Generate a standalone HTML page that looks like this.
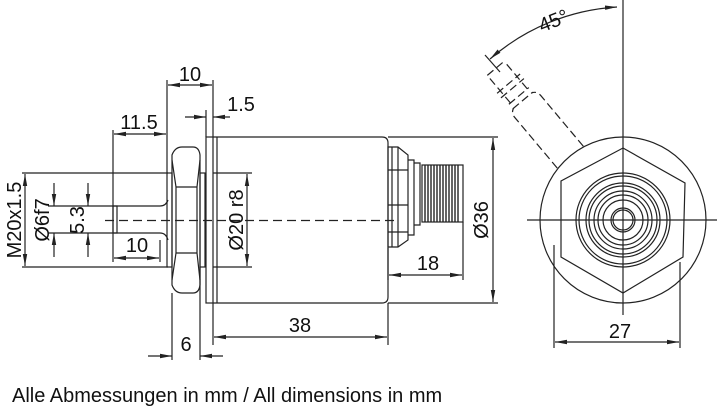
<!DOCTYPE html>
<html><head><meta charset="utf-8"><style>
html,body{margin:0;padding:0;background:#fff}
svg{display:block}
text{font-family:"Liberation Sans",sans-serif;font-size:20px;fill:#111}
</style></head><body>
<svg width="723" height="411" viewBox="0 0 723 411" xmlns="http://www.w3.org/2000/svg">
<defs>
<marker id="a" viewBox="0 0 12 6" refX="12" refY="3" markerWidth="12" markerHeight="6" orient="auto-start-reverse" markerUnits="userSpaceOnUse">
<path d="M0,0.8 L12,3 L0,5.2 Z" fill="#222"/></marker>
</defs>
<g stroke="#222" stroke-width="1.2" fill="none">
<line x1="105" y1="220.5" x2="395" y2="220.5" stroke-dasharray="9,5"/>
<path d="M113,206 H160 Q166,206 168,200 M113,233 H160 Q166,233 168,240"/>
<rect x="113" y="206" width="4" height="27"/>
<rect x="167" y="173" width="5" height="94"/>
<path d="M172,155 Q175,147 182,147 H193 Q199,147 200,155 V285 Q199,293 193,293 H182 Q175,293 172,285 Z"/>
<path d="M172,160 L176,187 H197 L200,160 M176,187 V253 M197,187 V253 M172,280 L176,253 H197 L200,280"/>
<rect x="200" y="173" width="5" height="94"/>
<rect x="206" y="137" width="7" height="166"/>
<path d="M213,137 H382 Q388,137 388,143 V297 Q388,303 382,303 H213"/>
<line x1="217" y1="137" x2="217" y2="303"/>
<path d="M388,147 H398 L408,155 V240 L398,247 H388 Z" />
<path d="M392,147 V247 M398,147 V247 M388,170 H408 M388,205 H408 M388,232 H408"/>
<path d="M408,160 H414 V235 H408 M414,163 H420 V225 H414"/>
<rect x="422" y="165" width="41" height="57"/>
<path d="M425,165 V222 M428,165 V222 M431,165 V222 M434,165 V222 M437,165 V222 M440,165 V222 M443,165 V222 M446,165 V222 M449,165 V222 M452,165 V222 M455,165 V222 M458,165 V222" stroke-width="1.4"/>

<line x1="22" y1="173" x2="168" y2="173"/>
<line x1="22" y1="267" x2="168" y2="267"/>
<line x1="25" y1="174" x2="25" y2="266" marker-start="url(#a)" marker-end="url(#a)"/>
<line x1="48" y1="206" x2="113" y2="206"/>
<line x1="48" y1="233" x2="113" y2="233"/>
<line x1="54" y1="183" x2="54" y2="206" marker-end="url(#a)"/>
<line x1="54" y1="257" x2="54" y2="233" marker-end="url(#a)"/>
<line x1="88" y1="183" x2="88" y2="206" marker-end="url(#a)"/>
<line x1="88" y1="257" x2="88" y2="233" marker-end="url(#a)"/>
<line x1="113" y1="130" x2="113" y2="262"/>
<line x1="114" y1="134" x2="166" y2="134" marker-start="url(#a)" marker-end="url(#a)"/>
<line x1="114" y1="258" x2="159" y2="258" marker-start="url(#a)" marker-end="url(#a)"/>
<line x1="160" y1="240" x2="160" y2="262"/>
<line x1="167" y1="80" x2="167" y2="173"/>
<line x1="213" y1="80" x2="213" y2="137"/>
<line x1="168" y1="85" x2="212" y2="85" marker-start="url(#a)" marker-end="url(#a)"/>
<line x1="206" y1="110" x2="206" y2="137"/>
<line x1="185" y1="117" x2="206" y2="117" marker-end="url(#a)"/>
<line x1="230" y1="117" x2="213" y2="117" marker-end="url(#a)"/>
<line x1="172" y1="293" x2="172" y2="360"/>
<line x1="200" y1="267" x2="200" y2="360"/>
<line x1="148" y1="356" x2="172" y2="356" marker-end="url(#a)"/>
<line x1="223" y1="356" x2="200" y2="356" marker-end="url(#a)"/>
<line x1="213" y1="303" x2="213" y2="345"/>
<line x1="388" y1="303" x2="388" y2="345"/>
<line x1="214" y1="337" x2="387" y2="337" marker-start="url(#a)" marker-end="url(#a)"/>
<line x1="247" y1="174" x2="247" y2="266" marker-start="url(#a)" marker-end="url(#a)"/>
<line x1="213" y1="173" x2="252" y2="173"/>
<line x1="213" y1="267" x2="252" y2="267"/>
<line x1="388" y1="248" x2="388" y2="280"/>
<line x1="463" y1="222" x2="463" y2="280"/>
<line x1="389" y1="275" x2="462" y2="275" marker-start="url(#a)" marker-end="url(#a)"/>
<line x1="388" y1="137" x2="498" y2="137"/>
<line x1="388" y1="303" x2="498" y2="303"/>
<line x1="493" y1="138" x2="493" y2="302" marker-start="url(#a)" marker-end="url(#a)"/>

<line x1="623" y1="0" x2="623" y2="315"/>
<line x1="527" y1="220" x2="717" y2="220"/>
<circle cx="623" cy="220" r="83"/>
<path d="M623,148 L685,183 L683,257 L623,293 L561,257 L561,181 Z"/>
<circle cx="623" cy="220" r="47"/>
<circle cx="623" cy="220" r="44"/>
<circle cx="623" cy="220" r="37"/>
<circle cx="623" cy="220" r="34"/>
<circle cx="623" cy="220" r="29"/>
<circle cx="623" cy="220" r="25"/>
<circle cx="623" cy="220" r="20"/>
<circle cx="623" cy="220" r="12"/>
<circle cx="623" cy="220" r="10"/>
<line x1="554" y1="245" x2="554" y2="348"/>
<line x1="680" y1="262" x2="680" y2="348"/>
<line x1="555" y1="342" x2="679" y2="342" marker-start="url(#a)" marker-end="url(#a)"/>
<path d="M617,7 A213,213 0 0 0 490,59" marker-start="url(#a)" marker-end="url(#a)"/>
<line x1="485" y1="55" x2="500" y2="72"/>
<g transform="rotate(-40 623 220)" stroke-dasharray="8,4">
<path d="M606,138 V72 Q606,66 611,64 M640,138 V72 Q640,66 635,64"/>
<path d="M610,64 H636 M610,58 H636"/>
<path d="M612,58 V22 M634,58 V22 M608,48 H638 M608,42 H638 M612,22 H634"/>
</g>
</g>
<g>
<text x="190" y="81" text-anchor="middle">10</text>
<text x="139" y="129" text-anchor="middle">11.5</text>
<text x="241" y="111" text-anchor="middle">1.5</text>
<text x="137" y="252" text-anchor="middle">10</text>
<text x="186" y="351" text-anchor="middle">6</text>
<text x="300" y="332" text-anchor="middle">38</text>
<text x="428" y="270" text-anchor="middle">18</text>
<text x="620" y="338" text-anchor="middle">27</text>
<text transform="translate(21,220) rotate(-90)" text-anchor="middle">M20x1.5</text>
<text transform="translate(49,220) rotate(-90)" text-anchor="middle">Ø6f7</text>
<text transform="translate(84,220) rotate(-90)" text-anchor="middle">5.3</text>
<text transform="translate(243,220) rotate(-90)" text-anchor="middle">Ø20 r8</text>
<text transform="translate(488,220) rotate(-90)" text-anchor="middle">Ø36</text>
<text transform="translate(556,27) rotate(-22)" text-anchor="middle">45°</text>
<text x="12" y="402" style="font-size:20px">Alle Abmessungen in mm / All dimensions in mm</text>
</g>
</svg>
</body></html>
